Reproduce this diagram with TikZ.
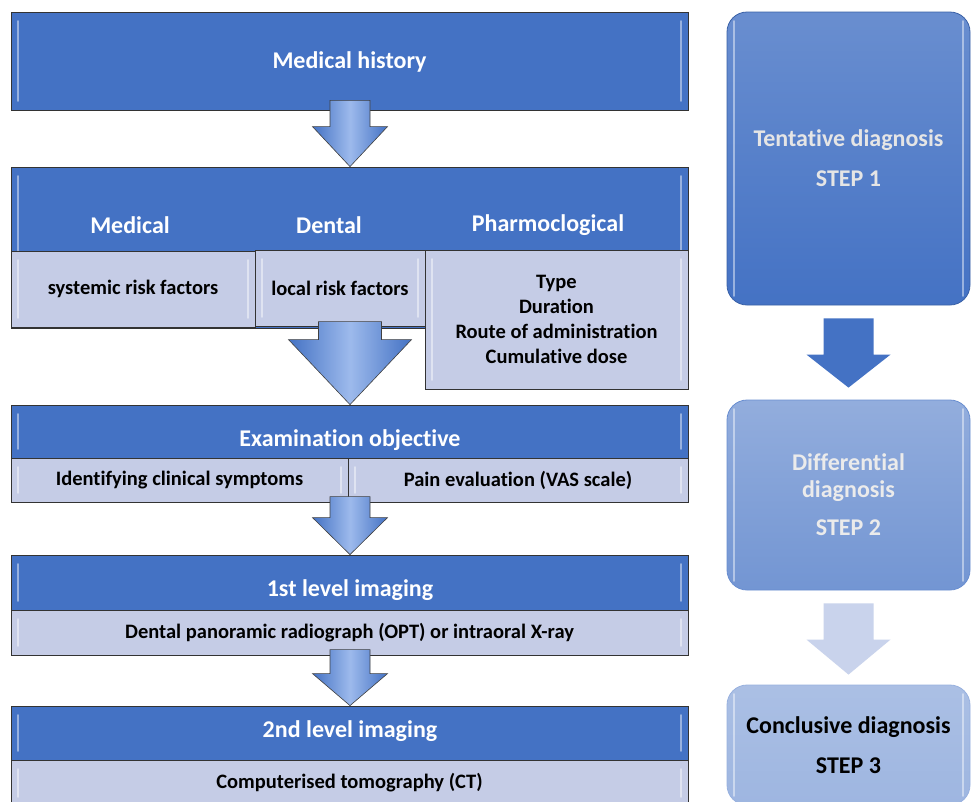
\documentclass[tikz,border=0pt]{standalone}
\usepackage{fontspec}
\setmainfont{Carlito}[Ligatures={NoCommon}]
\usetikzlibrary{calc}
\definecolor{hdrblue}{HTML}{4472C4}
\definecolor{subblue}{HTML}{C5CCE6}
\definecolor{arrlight}{HTML}{9DBAEC}
\definecolor{palearr}{HTML}{C9D3EC}
\tikzset{
  bevel/.style={path picture={
    \draw[white, opacity=0.45, line width=1.6pt, line cap=round]
      ([xshift=7pt,yshift=-9pt]path picture bounding box.north west) --
      ([xshift=7pt,yshift=9pt]path picture bounding box.south west);
    \draw[white, opacity=0.45, line width=1.6pt, line cap=round]
      ([xshift=-7pt,yshift=-9pt]path picture bounding box.north east) --
      ([xshift=-7pt,yshift=9pt]path picture bounding box.south east);}},
  hdrbox/.style={draw=black!80, line width=0.8pt, fill=hdrblue, minimum width=677pt, inner sep=0pt, bevel},
  hdrtext/.style={text=white, font=\fontsize{24}{28}\selectfont\bfseries},
  subbox/.style={draw=black!80, line width=0.8pt, fill=subblue, inner sep=0pt, align=center,
    font=\fontsize{20.5}{25}\selectfont\bfseries, bevel},
  stepbox/.style={rounded corners=20pt, line width=0.8pt, minimum width=243pt, inner sep=0pt,
    align=center, font=\fontsize{24}{40}\selectfont\bfseries, bevel},
  bluearrow/.style={draw=black!75, line width=0.6pt, left color=hdrblue, right color=hdrblue, middle color=arrlight},
  steparrow/.style={fill=hdrblue},
  palearrow/.style={fill=palearr}
}
% block arrow: start, tip, shaft half width, head half width, head length, style
\newcommand\blockarrow[6]{%
  \path[#6] ($(#1)+(-#3,0)$) -- ($(#2)+(-#3,-#5)$) -- ($(#2)+(-#4,-#5)$) -- (#2)
    -- ($(#2)+(#4,-#5)$) -- ($(#2)+(#3,-#5)$) -- ($(#1)+(#3,0)$) -- cycle;
}
\begin{document}
\begin{tikzpicture}[x=1pt, y=-1pt]
\useasboundingbox (0,0) rectangle (974,801);
\fill[white] (0,0) rectangle (974,801);

% left column
\node[hdrbox, hdrtext, minimum height=98pt, text depth=2pt] (hist) at (349.5,61) {Medical history};

\node[hdrbox, minimum height=161pt] (hdr2) at (349.5,247.5) {};
\node[hdrtext] (medtxt) at (130,225) {Medical};
\node[hdrtext] (dentxt) at (329,225) {Dental};
\node[hdrtext] (phatxt) at (548,225) {Pharmoclogical};
\node[subbox, minimum width=244pt, minimum height=76pt] (sysrisk) at (133,289) {systemic risk factors};
\node[subbox, minimum width=170pt, minimum height=76pt] (locrisk) at (340,288) {local risk factors};
\node[subbox, minimum width=263pt, minimum height=139pt] (pharm) at (556.5,319.5)
  {Type\\Duration\\Route of administration\\Cumulative dose};

\node[hdrbox, minimum height=53pt] (hdr3) at (349.5,431.5) {};
\node[hdrtext] (examtxt) at (350,440) {Examination objective};
\node[subbox, minimum width=337pt, minimum height=44pt] (symp) at (179.5,480) {Identifying clinical symptoms};
\node[subbox, minimum width=340pt, minimum height=44pt] (pain) at (518,480) {Pain evaluation (VAS scale)};

\node[hdrbox, minimum height=55pt] (hdr4) at (349.5,582.5) {};
\node[hdrtext] (firsttxt) at (350,590) {1st level imaging};
\node[subbox, minimum width=677pt, minimum height=45pt] (opt) at (349.5,632.5)
  {Dental panoramic radiograph (OPT) or intraoral X-ray};

\node[hdrbox, minimum height=54pt] (hdr5) at (349.5,733) {};
\node[hdrtext] (secondtxt) at (350,731) {2nd level imaging};
\node[subbox, minimum width=677pt, minimum height=46pt] (ct) at (349.5,783) {Computerised tomography (CT)};

% right column
\node[stepbox, draw=hdrblue!85!black, top color=hdrblue!80!white, bottom color=hdrblue,
  text=black!10, minimum height=293pt] (step1) at (848.5,158.5) {Tentative diagnosis\\STEP 1};
\node[stepbox, draw=hdrblue!80, top color=hdrblue!58!white, bottom color=hdrblue!75!white,
  text=black!8, minimum height=190pt] (step2) at (848.5,495) {Differential\\[-13pt]diagnosis\\[-2pt]STEP 2};
\node[stepbox, draw=hdrblue!55, top color=hdrblue!45!white, bottom color=hdrblue!52!white,
  text=black, minimum height=120pt] (step3) at (848.5,745) {Conclusive diagnosis\\STEP 3};

% arrows
\coordinate (a1s) at ($(hist.south)+(0.5,-10)$);
\coordinate (a1t) at ($(hdr2.north)+(0.5,0)$);
\coordinate (a2s) at ($(hdr3.north)+(0.5,-83)$);
\coordinate (a2t) at ($(hdr3.north)+(0.5,0)$);
\coordinate (a3s) at ($(hdr4.north)+(0.5,-58)$);
\coordinate (a3t) at ($(hdr4.north)+(0.5,0)$);
\coordinate (a4s) at ($(hdr5.north)+(0.5,-56)$);
\coordinate (a4t) at ($(hdr5.north)+(0.5,0)$);
\blockarrow{a1s}{a1t}{20}{37.5}{40}{bluearrow}
\blockarrow{a2s}{a2t}{31.5}{61.5}{65}{bluearrow}
\blockarrow{a3s}{a3t}{20}{37.5}{37}{bluearrow}
\blockarrow{a4s}{a4t}{20}{37.5}{32}{bluearrow}

\coordinate (b1s) at ($(step1.south)+(0,13)$);
\coordinate (b1t) at ($(step2.north)+(0,-12)$);
\coordinate (b2s) at ($(step2.south)+(0,13)$);
\coordinate (b2t) at ($(step3.north)+(0,-10)$);
\blockarrow{b1s}{b1t}{25}{42}{33}{steparrow}
\blockarrow{b2s}{b2t}{25}{42}{35}{palearrow}
\end{tikzpicture}
\end{document}
